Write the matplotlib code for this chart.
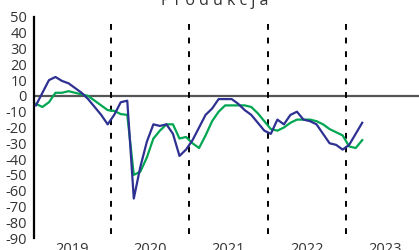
import numpy as np
import matplotlib
matplotlib.use("Agg")
from matplotlib import pyplot as plt

plt.rcParams['font.family'] = ['Open Sans', 'DejaVu Sans']

# monthly values, Jan 2019 .. Mar 2023
blue = [-6, 2, 10, 12, 9.5, 8, 5, 2, -2, -7, -12, -18,
        -12, -4, -3, -65, -45, -29, -18, -19, -18, -24, -38, -34,
        -28, -20, -12, -8, -2, -2, -2, -5, -9, -12, -17, -22,
        -24, -15, -18, -12, -10, -15, -16, -18, -24, -30, -31, -34,
        -31, -24, -17]
green = [-5, -7, -4, 2, 2, 3, 2, 1, 0, -3, -6, -9,
         -9.5, -11.5, -12, -50, -48, -39, -27, -22, -18, -18, -27, -26,
         -30, -33, -25, -16, -10, -6, -6, -6, -6, -7, -11, -16,
         -21, -22, -20, -17, -15, -15, -15, -16, -18, -21, -23, -25,
         -32, -33, -28]
years = ['2019', '2020', '2021', '2022', '2023']
yticks = list(range(-90, 51, 10))

fig = plt.figure(figsize=(4.19, 2.5), dpi=100)
ax = fig.add_axes([0.081, 0.048, 0.919, 0.884])

x = np.arange(len(blue))
ax.axhline(0, color='#555555', lw=1.6, zorder=1)
for k in range(1, 5):
    ax.axvline(12 * k - 0.5, ymin=0.02, color='black', lw=1.4, ls=(0, (3, 4)), zorder=1)
ax.plot(x, green, color='#00a651', lw=1.6, zorder=2)
ax.plot(x, blue, color='#2e3192', lw=1.6, zorder=3)

ax.set_xlim(-0.3, 58.7)
ax.set_ylim(-90, 50)
ax.set_yticks(yticks)
ax.set_yticklabels([str(v) for v in yticks], fontsize=10.5, color='#333333')
ax.tick_params(axis='y', length=0, pad=5)
ax.set_xticks([12 * i + 5.5 for i in range(len(years))])
ax.set_xticklabels(years, fontsize=10.5, color='#333333')
ax.tick_params(axis='x', length=0, pad=3)
for s in ['top', 'right', 'bottom']:
    ax.spines[s].set_visible(False)
ax.spines['left'].set_linewidth(1.6)
ax.spines['left'].set_color('black')

fig.text(0.513, 0.98, 'P r o d u k c j a', fontsize=11.5, color='#333333',
         ha='center', va='baseline')

fig.savefig('out.png', dpi=100)
